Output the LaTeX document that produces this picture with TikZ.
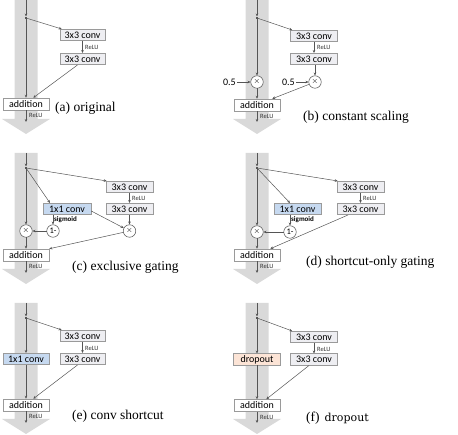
\documentclass[tikz,border=0pt]{standalone}
\usepackage{fontspec}
\setmainfont{Liberation Serif}
\newfontfamily\boxfont{Carlito}
\newfontfamily\dropfont{DejaVu Serif}
\usetikzlibrary{arrows.meta}
\definecolor{shaftc}{HTML}{D9D9D9}
\definecolor{linec}{HTML}{555555}
\definecolor{boxfill}{HTML}{EEEEF2}
\definecolor{boxline}{HTML}{9A9A9A}
\definecolor{bluefill}{HTML}{C6D9F0}
\definecolor{dropfill}{HTML}{FCE4D6}
\newcommand\myshaft[1]{\fill[shaftc] (-11.5,#1) -- (11.5,#1) -- (11.5,119) -- (24,119) -- (0,134) -- (-24,119) -- (-11.5,119) -- cycle;}
\begin{document}
\begin{tikzpicture}[x=1pt,y=-1pt,
 conn/.style={draw=linec, line width=0.5pt, -{Stealth[length=3pt,width=2.6pt]}},
 box/.style={draw=boxline, fill=boxfill, line width=0.5pt, minimum width=45pt, minimum height=11.5pt, inner sep=0pt, font=\boxfont\fontsize{10}{10}\selectfont},
 wbox/.style={box, minimum width=47pt},
 addbox/.style={box, fill=white, minimum width=46pt, minimum height=12pt},
 bluebox/.style={box, fill=bluefill, minimum width=47pt},
 dropbox/.style={box, fill=dropfill, minimum width=47pt},
 op/.style={circle, draw=linec, fill=white, line width=0.5pt, minimum size=12.5pt, inner sep=0pt, font=\boxfont\fontsize{8.5}{8.5}\selectfont},
 tiny/.style={font=\boxfont\fontsize{6.5}{7}\selectfont, inner sep=0pt, text=black!80, anchor=west},
 sig/.style={font=\boxfont\bfseries\fontsize{7}{7}\selectfont, inner sep=0pt, anchor=west},
 lab/.style={font=\boxfont\fontsize{10}{10}\selectfont, inner sep=0pt},
 captext/.style={font=\fontsize{13.5}{14}\selectfont, anchor=west, inner sep=0pt},
 mk/.style={fill=linec}
]
\useasboundingbox (0,0) rectangle (458,435);

% ---------------- (a) original
\begin{scope}[shift={(26,0)}]
\myshaft{0}
\coordinate (a-top) at (0,0);
\coordinate (a-m) at (0,16.5);
\coordinate (a-B) at (0,18);
\coordinate (a-out) at (0,122);
\node[box] (a-c1) at (56.5,35) {3x3 conv};
\node[box] (a-c2) at (56.5,59) {3x3 conv};
\node[addbox] (a-add) at (0,104) {addition};
\draw[conn] (a-top) -- (a-m);
\fill[mk] (-1.3,17) rectangle (1.3,19.5);
\draw[conn] (a-B) -- ([xshift=2pt]a-c1.north west);
\draw[conn] (a-c1) -- (a-c2);
\draw[conn] ([xshift=-5pt]a-c2.south) -- ([xshift=-16pt]a-add.north east);
\draw[conn] (a-B) -- (a-add);
\draw[conn] (a-add) -- (a-out);
\node[tiny] (a-r1) at (59,47.5) {ReLU};
\node[tiny] (a-r2) at (3,115.5) {ReLU};
\end{scope}
\node[captext] (a-cap) at (55,108) {(a) original};

% ---------------- (b) constant scaling
\begin{scope}[shift={(257,0)}]
\myshaft{0}
\coordinate (b-top) at (0,0);
\coordinate (b-m) at (0,16.5);
\coordinate (b-B) at (0,18);
\coordinate (b-out) at (0,122);
\node[wbox] (b-c1) at (57,36) {3x3 conv};
\node[wbox] (b-c2) at (57,59) {3x3 conv};
\node[op] (b-x1) at (0,82) {$\times$};
\node[op] (b-x2) at (58,82) {$\times$};
\node[lab, anchor=east] (b-h1) at (-21,82) {0.5};
\node[lab, anchor=east] (b-h2) at (38,82) {0.5};
\node[addbox] (b-add) at (0,105) {addition};
\draw[conn] (b-top) -- (b-m);
\fill[mk] (-1.3,17) rectangle (1.3,19.5);
\draw[conn] (b-B) -- ([xshift=2pt]b-c1.north west);
\draw[conn] (b-c1) -- (b-c2);
\draw[conn] (b-c2.south -| b-x2) -- (b-x2);
\draw[conn] ([xshift=1pt]b-h1.east) -- (b-x1);
\draw[conn] ([xshift=1pt]b-h2.east) -- (b-x2);
\draw[conn] (b-B) -- (b-x1);
\draw[conn] (b-x1) -- (b-add);
\draw[conn] (b-x2) -- ([xshift=-8pt]b-add.north east);
\draw[conn] (b-add) -- (b-out);
\node[tiny] (b-r1) at (60,47.5) {ReLU};
\node[tiny] (b-r2) at (3,116.5) {ReLU};
\end{scope}
\node[captext] (b-cap) at (303,117) {(b) constant scaling};

% ---------------- (c) exclusive gating
\begin{scope}[shift={(26,150)}]
\myshaft{3}
\coordinate (c-top) at (0,3);
\coordinate (c-m) at (0,16.5);
\coordinate (c-B) at (0,18);
\coordinate (c-out) at (0,123);
\node[wbox] (c-c1) at (103.5,37) {3x3 conv};
\node[wbox] (c-c2) at (103.5,59) {3x3 conv};
\node[bluebox, minimum width=48pt] (c-g) at (41,59) {1x1 conv};
\node[op] (c-n) at (27,81) {1-};
\node[op] (c-x1) at (0,81) {$\times$};
\node[op] (c-x2) at (103.5,81) {$\times$};
\node[addbox] (c-add) at (0,105) {addition};
\draw[conn] (c-top) -- (c-m);
\fill[mk] (-1.3,17) rectangle (1.3,19.5);
\draw[conn] (c-B) -- ([xshift=1pt]c-c1.north west);
\draw[conn] (c-c1) -- (c-c2);
\draw[conn] (c-B) -- ([xshift=-17pt]c-g.north);
\draw[conn] ([xshift=-14pt]c-g.south) -- (c-n);
\draw[conn] (c-n) -- (c-x1);
\draw[conn] ([yshift=-2pt]c-g.east) -- (c-x2);
\draw[conn] (c-c2) -- (c-x2);
\draw[conn] (c-B) -- (c-x1);
\draw[conn] (c-x1) -- (c-add);
\draw[conn] (c-x2) -- (c-add.north east);
\draw[conn] (c-add) -- (c-out);
\node[tiny] (c-r1) at (106,48) {ReLU};
\node[sig] (c-s) at (28,69.5) {sigmoid};
\node[tiny] (c-r2) at (3,116.5) {ReLU};
\end{scope}
\node[captext] (c-cap) at (72,267) {(c) exclusive gating};

% ---------------- (d) shortcut-only gating
\begin{scope}[shift={(257,150)}]
\myshaft{3}
\coordinate (d-top) at (0,3);
\coordinate (d-m) at (0,16.5);
\coordinate (d-B) at (0,18);
\coordinate (d-out) at (0,123);
\node[wbox] (d-c1) at (103.5,37) {3x3 conv};
\node[wbox] (d-c2) at (103.5,59) {3x3 conv};
\node[bluebox] (d-g) at (40.5,59) {1x1 conv};
\node[op] (d-n) at (33,82) {1-};
\node[op] (d-x1) at (0,82) {$\times$};
\node[addbox] (d-add) at (0,105) {addition};
\draw[conn] (d-top) -- (d-m);
\fill[mk] (-1.3,17) rectangle (1.3,19.5);
\draw[conn] (d-B) -- ([xshift=1pt]d-c1.north west);
\draw[conn] (d-c1) -- (d-c2);
\draw[conn] (d-B) -- ([xshift=-7.5pt]d-g.north);
\draw[conn] ([xshift=-7.5pt]d-g.south) -- (d-n);
\draw[conn] (d-n) -- (d-x1);
\draw[conn] ([xshift=-12.5pt]d-c2.south) -- ([xshift=-10pt]d-add.north east);
\draw[conn] (d-B) -- (d-x1);
\draw[conn] (d-x1) -- (d-add);
\draw[conn] (d-add) -- (d-out);
\node[tiny] (d-r1) at (106,48) {ReLU};
\node[sig] (d-s) at (34,69.5) {sigmoid};
\node[tiny] (d-r2) at (3,116.5) {ReLU};
\end{scope}
\node[captext] (d-cap) at (306,262) {(d) shortcut-only gating};

% ---------------- (e) conv shortcut
\begin{scope}[shift={(26,300)}]
\myshaft{3}
\coordinate (e-top) at (0,3);
\coordinate (e-m) at (0,16.5);
\coordinate (e-B) at (0,18);
\coordinate (e-out) at (0,123);
\node[box] (e-c1) at (56.5,36) {3x3 conv};
\node[box] (e-c2) at (56.5,59) {3x3 conv};
\node[bluebox, minimum width=46pt] (e-g) at (0,59) {1x1 conv};
\node[addbox] (e-add) at (0,105) {addition};
\draw[conn] (e-top) -- (e-m);
\fill[mk] (-1.3,17) rectangle (1.3,19.5);
\draw[conn] (e-B) -- ([xshift=2pt]e-c1.north west);
\draw[conn] (e-c1) -- (e-c2);
\draw[conn] ([xshift=-5pt]e-c2.south) -- ([xshift=-16pt]e-add.north east);
\draw[conn] (e-B) -- (e-g);
\draw[conn] (e-g) -- (e-add);
\draw[conn] (e-add) -- (e-out);
\node[tiny] (e-r1) at (59,48) {ReLU};
\node[tiny] (e-r2) at (3,116.5) {ReLU};
\end{scope}
\node[captext] (e-cap) at (72,416) {(e) conv shortcut};

% ---------------- (f) dropout
\begin{scope}[shift={(257,300)}]
\myshaft{3}
\coordinate (f-top) at (0,3);
\coordinate (f-m) at (0,16.5);
\coordinate (f-B) at (0,18);
\coordinate (f-out) at (0,123);
\node[wbox] (f-c1) at (57,37) {3x3 conv};
\node[wbox] (f-c2) at (57,59.5) {3x3 conv};
\node[dropbox] (f-g) at (0,59.5) {dropout};
\node[addbox] (f-add) at (0,105.5) {addition};
\draw[conn] (f-top) -- (f-m);
\fill[mk] (-1.3,17) rectangle (1.3,19.5);
\draw[conn] (f-B) -- ([xshift=2pt]f-c1.north west);
\draw[conn] (f-c1) -- (f-c2);
\draw[conn] ([xshift=-5pt]f-c2.south) -- ([xshift=-14pt]f-add.north east);
\draw[conn] (f-B) -- (f-g);
\draw[conn] (f-g) -- (f-add);
\draw[conn] (f-add) -- (f-out);
\node[tiny] (f-r1) at (60,49) {ReLU};
\node[tiny] (f-r2) at (3,117) {ReLU};
\end{scope}
\node[captext] (f-cap) at (306,418) {(f)\hspace{5pt}{\dropfont\fontsize{11}{12}\selectfont dropout}};
\end{tikzpicture}
\end{document}
